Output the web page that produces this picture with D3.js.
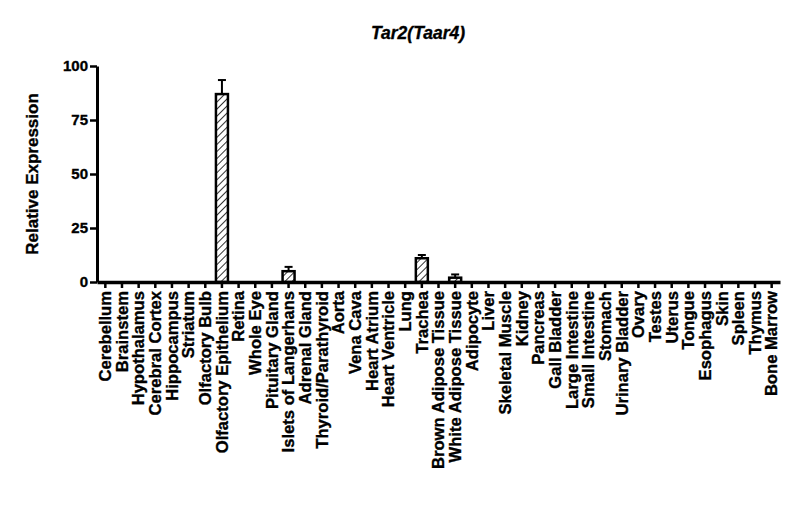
<!DOCTYPE html>
<html>
<head>
<meta charset="utf-8">
<script src="https://cdn.jsdelivr.net/npm/d3@7"></script>
<style>
  body { margin: 0; background: #fff; }
  text { font-family: "Liberation Sans", Arial, sans-serif; font-weight: bold; stroke: black; stroke-width: 0.35px; }
</style>
</head>
<body>
<div id="chart"></div>
<script>
const tissues = ["Cerebellum", "Brainstem", "Hypothalamus", "Cerebral Cortex", "Hippocampus", "Striatum",
  "Olfactory Bulb", "Olfactory Epithelium", "Retina", "Whole Eye", "Pituitary Gland", "Islets of Langerhans",
  "Adrenal Gland", "Thyroid/Parathyroid", "Aorta", "Vena Cava", "Heart Atrium", "Heart Ventricle", "Lung",
  "Trachea", "Brown Adipose Tissue", "White Adipose Tissue", "Adipocyte", "Liver", "Skeletal Muscle", "Kidney",
  "Pancreas", "Gall Bladder", "Large Intestine", "Small Intestine", "Stomach", "Urinary Bladder", "Ovary",
  "Testes", "Uterus", "Tongue", "Esophagus", "Skin", "Spleen", "Thymus", "Bone Marrow"];

const expression = [0, 0, 0, 0, 0, 0, 0, 87, 0, 0, 0, 5, 0, 0, 0, 0, 0, 0, 0, 11, 0, 2, 0, 0, 0, 0,
  0, 0, 0, 0, 0, 0, 0, 0, 0, 0, 0, 0, 0, 0, 0];

const errors = [0, 0, 0, 0, 0, 0, 0, 6.5, 0, 0, 0, 2, 0, 0, 0, 0, 0, 0, 0, 1.5, 0, 1.5, 0, 0, 0, 0,
  0, 0, 0, 0, 0, 0, 0, 0, 0, 0, 0, 0, 0, 0, 0];

const yTicks = [0, 25, 50, 75, 100];

const data = tissues.map((t, i) => ({tissue: t, value: expression[i], err: errors[i]}));

const width = 800, height = 519;
const plot = {left: 97, right: 780, top: 66, bottom: 282};

const svg = d3.select("#chart").append("svg")
  .attr("width", width).attr("height", height);

// hatch for the bars
const defs = svg.append("defs");
defs.append("pattern")
  .attr("id", "hatch")
  .attr("patternUnits", "userSpaceOnUse")
  .attr("width", 5).attr("height", 5)
  .attr("patternTransform", "rotate(45)")
  .append("line")
    .attr("x1", 0).attr("y1", 0).attr("x2", 0).attr("y2", 5)
    .attr("stroke", "black").attr("stroke-width", 1.6);

let x = d3.scaleBand().domain(tissues).range([plot.left, plot.right]).paddingInner(0.28).paddingOuter(0.14);
let y = d3.scaleLinear().domain([0, 100]).range([plot.bottom, plot.top]);

svg.append("text")
  .attr("x", 418)
  .attr("y", 39)
  .attr("text-anchor", "middle")
  .style("font-style", "italic")
  .style("font-size", "17.5px")
  .text("Tar2(Taar4)");

// bars
svg.selectAll("rect.bar")
  .data(data)
  .join("rect")
    .attr("class", "bar")
    .attr("x", d => x(d.tissue))
    .attr("width", x.bandwidth())
    .attr("y", d => y(d.value))
    .attr("height", d => plot.bottom - y(d.value))
    .attr("fill", "url(#hatch)")
    .attr("stroke", "black")
    .attr("stroke-width", 2.5);

// error bars (upper only)
const eb = data.filter(d => d.err > 0);
svg.selectAll("line.err")
  .data(eb)
  .join("line")
    .attr("class", "err")
    .attr("x1", d => x(d.tissue) + x.bandwidth() / 2)
    .attr("x2", d => x(d.tissue) + x.bandwidth() / 2)
    .attr("y1", d => y(d.value))
    .attr("y2", d => y(d.value + d.err))
    .attr("stroke", "black").attr("stroke-width", 2);
svg.selectAll("line.cap")
  .data(eb)
  .join("line")
    .attr("class", "cap")
    .attr("x1", d => x(d.tissue) + x.bandwidth() / 2 - 4)
    .attr("x2", d => x(d.tissue) + x.bandwidth() / 2 + 4)
    .attr("y1", d => y(d.value + d.err))
    .attr("y2", d => y(d.value + d.err))
    .attr("stroke", "black").attr("stroke-width", 2);

// y axis
const yAxis = svg.append("g")
  .attr("transform", `translate(${plot.left},0)`)
  .call(d3.axisLeft(y).tickValues(yTicks).tickSize(7).tickSizeOuter(0).tickPadding(2));
yAxis.select(".domain").attr("stroke-width", 3);
yAxis.selectAll(".tick line").attr("stroke-width", 2.5);
yAxis.selectAll(".tick text").style("font-size", "15px").attr("fill", "black");

svg.append("text")
  .attr("transform", `translate(38,${(plot.top + plot.bottom) / 2}) rotate(-90)`)
  .attr("text-anchor", "middle")
  .style("font-size", "17px")
  .text("Relative Expression");

// x axis
const xAxis = svg.append("g")
  .attr("transform", `translate(0,${plot.bottom})`)
  .call(d3.axisBottom(x).tickSize(6).tickSizeOuter(0).tickPadding(3));
xAxis.select(".domain").attr("stroke-width", 3.5);
xAxis.selectAll(".tick line").attr("stroke-width", 2.5);
xAxis.selectAll(".tick text")
  .attr("x", -9)
  .attr("y", 0)
  .attr("dy", "0.35em")
  .attr("transform", "rotate(-90)")
  .style("text-anchor", "end")
  .style("font-size", "16.6px")
  .attr("fill", "black");
</script>
</body>
</html>
